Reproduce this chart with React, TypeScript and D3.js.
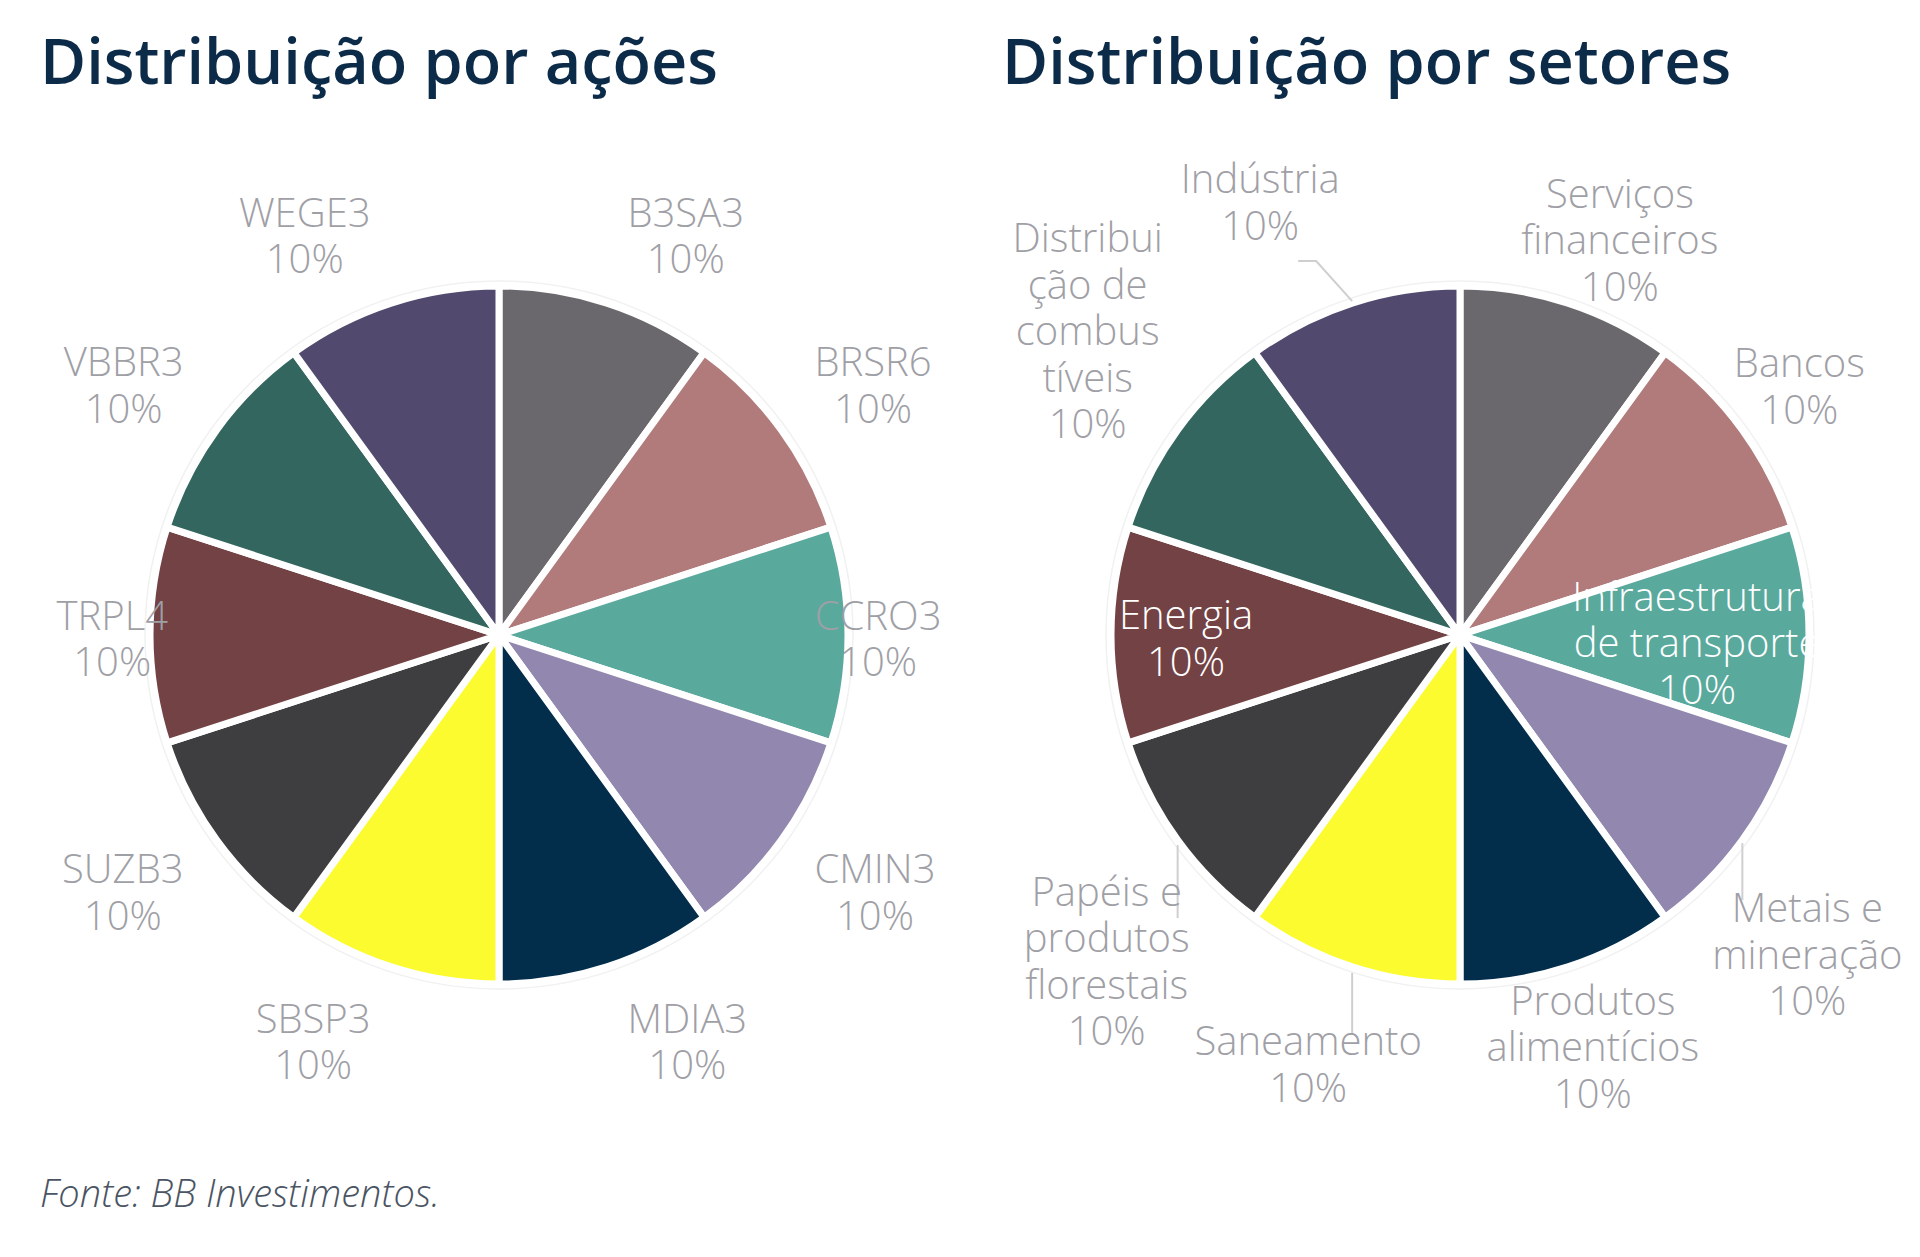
import React, { useMemo } from 'react';
import * as d3 from 'd3';

// Carteira: peso de cada ação e de cada setor (%)
const stockNames = ['B3SA3', 'BRSR6', 'CCRO3', 'CMIN3', 'MDIA3', 'SBSP3', 'SUZB3', 'TRPL4', 'VBBR3', 'WEGE3'];
const stockShares = [10, 10, 10, 10, 10, 10, 10, 10, 10, 10];

const sectorNames = [
  'Serviços financeiros',
  'Bancos',
  'Infraestrutura de transporte',
  'Metais e mineração',
  'Produtos alimentícios',
  'Saneamento',
  'Papéis e produtos florestais',
  'Energia',
  'Distribuição de combustíveis',
  'Indústria'
];
const sectorShares = [10, 10, 10, 10, 10, 10, 10, 10, 10, 10];

// how each sector label wraps
const sectorLabelLines = [
  ['Serviços', 'financeiros'],
  ['Bancos'],
  ['Infraestrutura', 'de transporte'],
  ['Metais e', 'mineração'],
  ['Produtos', 'alimentícios'],
  ['Saneamento'],
  ['Papéis e', 'produtos', 'florestais'],
  ['Energia'],
  ['Distribui', 'ção de', 'combus', 'tíveis'],
  ['Indústria']
];

const sliceColors = [
  '#6a686d', '#b07b7a', '#5aa99d', '#9287ae', '#022d4b',
  '#fbfb30', '#3e3e40', '#734244', '#33665e', '#524a6e'
];

// sector labels were hand-placed: offset from the slice's outer mid point
const sectorLabelNudge = [
  [52, -63], [57, -44], [-112, 8], [65, 114], [25, 80],
  [-44, 97], [-71, 121], [75, 3], [-90, -99], [-92, -101]
];
// leader lines, relative to the slice's outer mid point
const sectorLeaders: (number[][] | null)[] = [
  null, null, null, [[0, 3], [0, 60]], null,
  [[0, 6], [0, 68]], [[0, 5], [0, 78]], null, null, [[0, -2], [-36, -42], [-54, -42]]
];

const W = 1920;
const H = 1257;
const radius = 349;
const cy = 635;
const leftCx = 499;
const rightCx = 1460;
const plotHalf = 442.5;
const labelSize = 40;
const lineGap = 46.5;
const labelColor = '#9fa0a6';
const fontStack = '"Open Sans", "Noto Sans", sans-serif';

const pct = (v: number) => `${Math.round(v)}%`;

// text widths for the outside-end label boxes
const measureCtx = typeof document !== 'undefined' ? document.createElement('canvas').getContext('2d') : null;
const textWidth = (s: string) => {
  if (!measureCtx) return s.length * 0.62 * labelSize;
  measureCtx.font = `300 ${labelSize}px ${fontStack}`;
  return measureCtx.measureText(s).width;
};

const LabelBlock = ({ x, y, lines, fill }: { x: number; y: number; lines: string[]; fill: string }) => (
  <text
    textAnchor="middle"
    style={{ fontFamily: fontStack, fontWeight: 300, fontSize: labelSize }}
    fill={fill}
  >
    {lines.map((ln, i) => (
      <tspan key={i} x={x} y={y + (i - (lines.length - 1) / 2) * lineGap + labelSize * 0.36}>
        {ln}
      </tspan>
    ))}
  </text>
);

const App = () => {
  const arcGen = useMemo(() => d3.arc<d3.PieArcDatum<number>>().innerRadius(0).outerRadius(radius), []);
  const pieGen = useMemo(() => d3.pie<number>().sort(null).value(d => d), []);

  const stockArcs = pieGen(stockShares);
  const sectorArcs = pieGen(sectorShares);

  const midOf = (a: d3.PieArcDatum<number>) => (a.startAngle + a.endAngle) / 2;

  const slices = (arcs: d3.PieArcDatum<number>[]) =>
    arcs.map((a, i) => (
      <path key={i} d={arcGen(a) || ''} fill={sliceColors[i]} stroke="#ffffff" strokeWidth={7} strokeLinejoin="round" />
    ));

  // outside-end labels: box pushed out along the slice bisector, kept inside the plot area
  const stockLabels = stockArcs.map((a, i) => {
    const t = midOf(a);
    const s = Math.sin(t);
    const c = Math.cos(t);
    const R = radius + 41;
    const lines = [stockNames[i], pct(a.value)];
    const hw = Math.max(...lines.map(textWidth)) / 2;
    const sx = Math.abs(s) < 0.05 ? 0 : Math.sign(s);
    const sy = Math.abs(c) < 0.05 ? 0 : -Math.sign(c);
    let x = R * s + sx * (hw - 13 + 22 * Math.abs(c));
    const y = -R * c + sy * (21 * Math.abs(c) + 12) + 3.5;
    x = Math.max(-(plotHalf - hw), Math.min(plotHalf - hw, x));
    return <LabelBlock key={i} x={x} y={y} lines={lines} fill={labelColor} />;
  });

  const sectorLabels = sectorArcs.map((a, i) => {
    const t = midOf(a);
    const ex = radius * Math.sin(t);
    const ey = -radius * Math.cos(t);
    const x = ex + sectorLabelNudge[i][0];
    const y = ey + sectorLabelNudge[i][1];
    const inside = Math.hypot(x, y) < radius;
    const leader = sectorLeaders[i];
    return (
      <g key={i}>
        {leader && (
          <polyline
            points={leader.map(p => `${ex + p[0]},${ey + p[1]}`).join(' ')}
            fill="none"
            stroke="#cfcfd2"
            strokeWidth={2}
          />
        )}
        <LabelBlock
          x={x}
          y={y}
          lines={[...sectorLabelLines[i], pct(a.value)]}
          fill={inside ? '#ffffff' : labelColor}
        />
      </g>
    );
  });

  const titleStyle = { fontFamily: fontStack, fontWeight: 600, fontSize: 63 };

  return (
    <div style={{ position: 'absolute', left: 0, top: 0, width: W, height: H, background: '#ffffff' }}>
      <svg width={W} height={H} viewBox={`0 0 ${W} ${H}`}>
        <rect width={W} height={H} fill="#ffffff" />

        <text x={40} y={84} fill="#0c2b48" style={titleStyle}>Distribuição por ações</text>
        <text x={1002} y={84} fill="#0c2b48" style={titleStyle}>Distribuição por setores</text>

        <g transform={`translate(${leftCx}, ${cy})`}>
          <circle r={radius + 5} fill="none" stroke="#f1f1f2" strokeWidth={1.5} />
          {slices(stockArcs)}
          {stockLabels}
        </g>

        <g transform={`translate(${rightCx}, ${cy})`}>
          <circle r={radius + 5} fill="none" stroke="#f1f1f2" strokeWidth={1.5} />
          {slices(sectorArcs)}
          {sectorLabels}
        </g>

        <text
          x={40}
          y={1207}
          fill="#4a5463"
          style={{ fontFamily: fontStack, fontStyle: 'italic', fontWeight: 300, fontSize: 38 }}
        >
          Fonte: BB Investimentos.
        </text>
      </svg>
    </div>
  );
};

export default App;
